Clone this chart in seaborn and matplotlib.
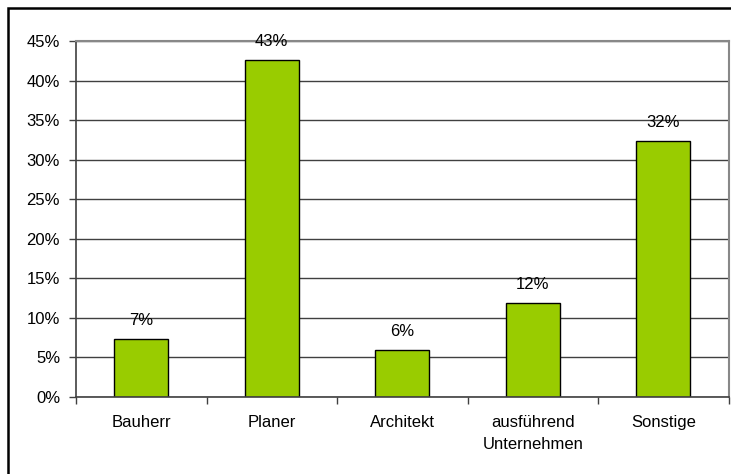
import matplotlib
matplotlib.use("Agg")
import matplotlib.pyplot as plt
import matplotlib.patches as mpatches
from matplotlib.ticker import FixedLocator, FuncFormatter
import seaborn as sns
import pandas as pd

categories = ["Bauherr", "Planer", "Architekt", "ausführend\nUnternehmen", "Sonstige"]
shares = [7.3, 42.6, 5.9, 11.9, 32.3]
y_ticks = [0, 5, 10, 15, 20, 25, 30, 35, 40, 45]

sns.set_theme(style="white")
plt.rcParams["font.family"] = ["Liberation Sans", "DejaVu Sans"]

df = pd.DataFrame({"Kategorie": categories, "Anteil": shares})

fig = plt.figure(figsize=(7.31, 4.74), dpi=100)
W, H = 731, 474
ax = fig.add_axes([76 / W, 1 - 397 / H, (728.5 - 76) / W, (397 - 41) / H])

sns.barplot(data=df, x="Kategorie", y="Anteil", color="#99CC00",
            edgecolor="black", linewidth=1.0, width=0.41, saturation=1, ax=ax)

ax.set_xlim(-0.5, len(categories) - 0.5)
ax.set_ylim(0, 45)
ax.set_yticks(y_ticks)
ax.yaxis.set_major_formatter(FuncFormatter(lambda v, p: f"{v:.0f}%"))
ax.grid(axis="y", color="#404040", linewidth=1.0)
ax.set_axisbelow(True)

FS = 12

# category boundaries get tick marks, category centres get the labels
ax.xaxis.set_major_locator(FixedLocator([i - 0.5 for i in range(len(categories) + 1)]))
ax.xaxis.set_major_formatter(FuncFormatter(lambda v, p: ""))
ax.xaxis.set_minor_locator(FixedLocator(list(range(len(categories)))))
ax.set_xticklabels(categories, minor=True)
ax.tick_params(axis="x", which="major", length=5, width=1, color="#404040", direction="out", bottom=True)
ax.tick_params(axis="x", which="minor", length=0, pad=13, labelsize=FS, colors="black")
ax.tick_params(axis="y", length=5, width=1, color="#404040", direction="out", left=True,
               pad=6.5, labelsize=FS, labelcolor="black")
for lbl in ax.get_xticklabels(minor=True):
    lbl.set_linespacing(1.6)

ax.set_xlabel("")
ax.set_ylabel("")

for side in ["top", "right"]:
    ax.spines[side].set_color("#888888")
    ax.spines[side].set_linewidth(1.5)
for side in ["left", "bottom"]:
    ax.spines[side].set_color("#404040")
    ax.spines[side].set_linewidth(1.2)

for i, v in enumerate(shares):
    ax.annotate(f"{v:.0f}%", xy=(i, v), xytext=(0, 8), textcoords="offset points",
                ha="center", va="bottom", fontsize=FS, color="black")

# outer frame of the chart
frame = mpatches.Rectangle((8 / W, -0.1), 1.2, 1 - 8 / H + 0.1, transform=fig.transFigure,
                           fill=False, edgecolor="black", linewidth=1.8, zorder=10)
fig.patches.append(frame)

fig.savefig("out.png", dpi=100)
